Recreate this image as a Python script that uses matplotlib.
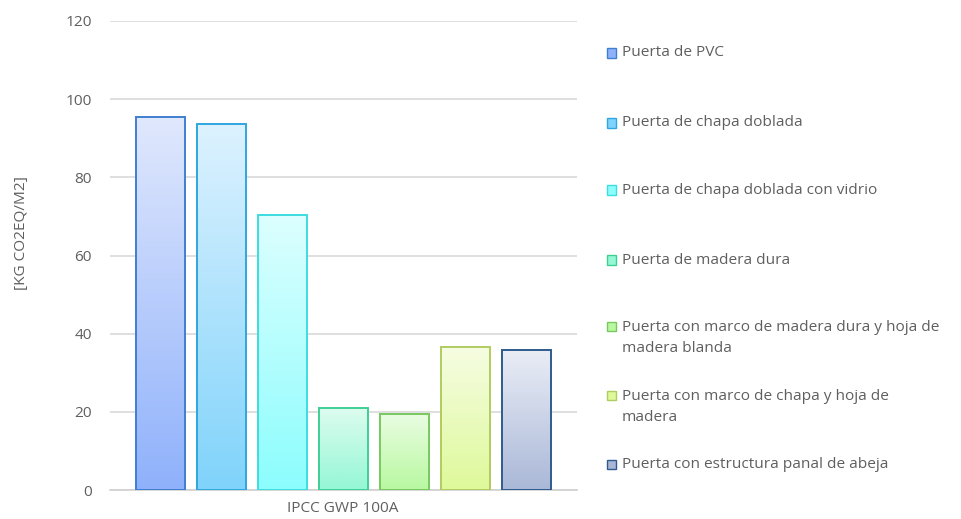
import numpy as np
import matplotlib
matplotlib.use("Agg")
import matplotlib.pyplot as plt
from matplotlib.colors import to_rgb
from matplotlib.patches import Rectangle

categories = [
    "Puerta de PVC",
    "Puerta de chapa doblada",
    "Puerta de chapa doblada con vidrio",
    "Puerta de madera dura",
    "Puerta con marco de madera dura y hoja de\nmadera blanda",
    "Puerta con marco de chapa y hoja de\nmadera",
    "Puerta con estructura panal de abeja",
]
values = [95.5, 93.6, 70.4, 20.9, 19.4, 36.5, 35.8]
yticks = [0, 20, 40, 60, 80, 100, 120]
xlabel = "IPCC GWP 100A"
ylabel = "[KG CO2EQ/M2]"

top_colors = ["#e0e8fd", "#ddf2ff", "#ddffff", "#ddfcf0", "#e9fde2", "#f6fde2", "#e9edf5"]
bot_colors = ["#8fb1fb", "#80d3fb", "#8cfdfd", "#94f7d5", "#b8f8a0", "#def99a", "#aab8d8"]
edge_colors = ["#3f7fd0", "#2fa6df", "#3cdde0", "#3ecf95", "#78c860", "#b0cc60", "#2f5b8f"]
legend_y = [53, 123, 190, 260, 338, 407, 464]  # pixel rows of legend entries

plt.rcParams['font.family'] = ['Open Sans', 'DejaVu Sans']
FS = 11.1
W, H = 961, 519
fig = plt.figure(figsize=(W / 100, H / 100), dpi=100)
ax = fig.add_axes([110 / W, 1 - 490 / H, 467 / W, 469 / H])

x = np.arange(len(values))
bars = ax.bar(x, values, width=0.8, facecolor="none", edgecolor="none", zorder=3)

for i, b in enumerate(bars):
    c0 = np.array(to_rgb(top_colors[i]))
    c1 = np.array(to_rgb(bot_colors[i]))
    t = np.linspace(0, 1, 256)[:, None]
    grad = (c0 * (1 - t) + c1 * t)[:, None, :]
    x0, w, h = b.get_x(), b.get_width(), b.get_height()
    im = ax.imshow(grad, extent=[x0, x0 + w, 0, h], origin="upper",
                   aspect="auto", zorder=3, interpolation="bilinear")
    im.set_clip_path(b)
    ax.add_patch(Rectangle((x0, 0), w, h, facecolor="none",
                           edgecolor=edge_colors[i], lw=1.4, zorder=4))

ax.set_xlim(-0.83, 6.83)
ax.set_ylim(0, 120)
ax.set_yticks(yticks)
ax.set_xticks([])
ax.yaxis.grid(True, color="#d9d9d9", lw=1.2, zorder=0)
ax.set_axisbelow(True)
for s in ["top", "right", "left"]:
    ax.spines[s].set_visible(False)
ax.spines["bottom"].set_color("#d0d0d0")
ax.spines["bottom"].set_linewidth(1.2)
ax.tick_params(axis="y", length=0, pad=13, labelsize=FS, labelcolor="#5f5f5f")

fig.text(343 / W, 1 - 509 / H, xlabel, ha="center", va="center",
         fontsize=FS, color="#5f5f5f")
fig.text(22 / W, 1 - 233 / H, ylabel, ha="center", va="center",
         rotation=90, fontsize=FS, color="#5f5f5f")

for i, lab in enumerate(categories):
    nlines = lab.count("\n") + 1
    ytop = legend_y[i] - (nlines - 1) * 11.5
    fig.patches.append(Rectangle(((607) / W, 1 - (ytop + 4.5) / H), 9 / W, 9 / H,
                                 transform=fig.transFigure, facecolor=bot_colors[i],
                                 edgecolor=edge_colors[i], lw=1.0))
    fig.text(622 / W, 1 - legend_y[i] / H, lab, ha="left", va="center",
             fontsize=FS, color="#5f5f5f", linespacing=1.5)

fig.savefig("out.png", dpi=100)
